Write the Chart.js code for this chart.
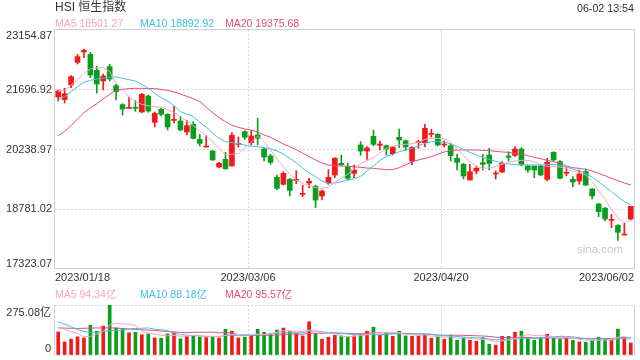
<!DOCTYPE html>
<html><head><meta charset="utf-8">
<script src="https://cdn.jsdelivr.net/npm/chart.js@4.4.0/dist/chart.umd.min.js"></script>
<style>
html,body{margin:0;padding:0;background:#fff;width:640px;height:360px;overflow:hidden}
canvas{position:absolute;left:0}
#c1{top:0}
#c2{top:280px}
</style></head><body>
<canvas id="c1" width="640" height="290"></canvas>
<canvas id="c2" width="640" height="80"></canvas>
<script>
const dates = [
'2023/01/18','2023/01/19','2023/01/20','2023/01/26','2023/01/27','2023/01/30','2023/01/31',
'2023/02/01','2023/02/02','2023/02/03','2023/02/06','2023/02/07','2023/02/08','2023/02/09','2023/02/10',
'2023/02/13','2023/02/14','2023/02/15','2023/02/16','2023/02/17','2023/02/20','2023/02/21','2023/02/22',
'2023/02/23','2023/02/24','2023/02/27','2023/02/28',
'2023/03/01','2023/03/02','2023/03/03','2023/03/06','2023/03/07','2023/03/08','2023/03/09','2023/03/10',
'2023/03/13','2023/03/14','2023/03/15','2023/03/16','2023/03/17','2023/03/20','2023/03/21','2023/03/22',
'2023/03/23','2023/03/24','2023/03/27','2023/03/28','2023/03/29','2023/03/30','2023/03/31',
'2023/04/03','2023/04/04','2023/04/06','2023/04/11','2023/04/12','2023/04/13','2023/04/14','2023/04/17',
'2023/04/18','2023/04/19','2023/04/20','2023/04/21','2023/04/24','2023/04/25','2023/04/26','2023/04/27','2023/04/28',
'2023/05/02','2023/05/03','2023/05/04','2023/05/05','2023/05/08','2023/05/09','2023/05/10','2023/05/11',
'2023/05/12','2023/05/15','2023/05/16','2023/05/17','2023/05/18','2023/05/19','2023/05/22','2023/05/23',
'2023/05/24','2023/05/25','2023/05/29','2023/05/30','2023/05/31',
'2023/06/01','2023/06/02'];

const openP = [21520,21455,21813,22366,22618,22561,22171,21910,22260,21796,
21333,21243,21268,21154,21544,20902,21219,21097,20950,20934,
20666,20853,20487,20300,20202,19812,20000,19836,20365,20674,
20406,20593,20251,20080,19560,19389,19511,19486,19144,19421,
19340,19104,19421,19617,19901,19812,19657,20349,20202,20560,
20340,20332,20137,20536,20454,19958,20406,20406,20609,20609,
20349,20332,20023,19877,19495,19714,19918,20104,19641,19690,
20080,20096,20251,19836,19836,19836,19511,20169,19942,19657,
19511,19470,19698,19275,18909,18803,18510,18388,18152,18543];
const highP = [21690,21731,22040,22561,22691,22610,22268,22081,22317,21829,
21357,21503,21430,21609,21569,21154,21243,21113,21292,21048,
20950,20918,20609,20576,20218,19926,20169,20649,20544,20698,
20698,21000,20267,20121,19617,19698,19535,19722,19364,19535,
19372,19250,19747,20039,20104,19901,19861,20430,20308,20706,
20446,20349,20316,20739,20471,20308,20462,20853,20731,20625,
20454,20373,20129,19901,19877,19836,20121,20267,19714,19942,
20186,20308,20284,19861,19836,19861,20023,20186,19966,19796,
19576,19739,19763,19291,18925,18828,18657,18405,18437,18852];
const lowP = [21422,21373,21748,22325,22480,21992,21617,21690,21910,21447,
21081,21243,21170,21138,21146,20788,21056,20715,20885,20698,
20593,20495,20324,20300,19974,19787,19755,19836,20300,20487,
20349,20349,19958,19877,19259,19372,19104,19405,19088,19307,
18819,19006,19389,19552,19844,19495,19552,20096,19999,20332,
20227,20104,20104,20284,20218,19861,20267,20300,20544,20324,
20300,19958,19739,19519,19495,19641,19739,19739,19519,19673,
19958,20064,19836,19682,19552,19592,19470,19958,19519,19600,
19332,19389,19356,19031,18600,18494,18331,18022,18152,18518];
const closeP = [21666,21601,22016,22504,22659,22057,21837,22032,21959,21650,
21227,21268,21243,21585,21178,21121,21097,20788,20975,20715,
20820,20511,20389,20324,19983,19901,19771,20584,20389,20536,
20568,20511,20056,19926,19291,19657,19242,19511,19169,19462,
19006,19226,19560,20023,19869,19535,19739,20202,20275,20365,
20373,20251,20300,20471,20300,20292,20430,20755,20633,20349,
20373,20088,19926,19592,19698,19779,19877,19901,19665,19901,
20047,20251,19877,19739,19739,19617,19926,19983,19535,19682,
19446,19641,19372,19104,18722,18543,18535,18217,18177,18852];

const ma5 = [21650,21691,21813,21935,22097,22203,22236,22236,22138,21853,
21691,21528,21406,21341,21308,21284,21276,21203,21146,21040,
20934,20820,20690,20576,20430,20267,20105,20121,20137,20267,
20414,20568,20430,20227,20007,19820,19641,19495,19413,19356,
19307,19291,19324,19438,19535,19633,19763,19893,19966,20039,
20153,20267,20316,20349,20365,20381,20414,20487,20511,20511,
20503,20414,20267,20088,19942,19828,19779,19795,19820,19877,
19926,19958,19974,19974,19942,19877,19828,19820,19812,19771,
19706,19682,19617,19454,19230,19020,18780,18570,18460,18501.27];
const ma10 = [21447,21528,21650,21772,21878,21927,21959,21983,21999,22016,
21975,21943,21910,21829,21731,21609,21504,21422,21308,21162,
21105,21040,20902,20788,20641,20511,20430,20406,20381,20349,
20316,20308,20284,20259,20202,20129,20023,19918,19779,19673,
19576,19470,19413,19421,19454,19495,19519,19584,19714,19836,
19974,20072,20121,20186,20227,20267,20332,20389,20430,20430,
20430,20373,20316,20243,20170,20105,20048,19999,19950,19909,
19885,19869,19861,19861,19861,19861,19877,19877,19852,19812,
19763,19714,19657,19568,19454,19332,19210,19088,18966,18892.92];
const ma20 = [20576,20682,20820,20983,21138,21260,21357,21471,21585,21674,
21707,21723,21731,21731,21731,21723,21707,21682,21642,21593,
21536,21479,21406,21276,21138,21016,20918,20829,20780,20739,
20715,20666,20593,20536,20454,20373,20308,20235,20153,20064,
19983,19909,19861,19844,19836,19828,19820,19804,19787,19779,
19763,19747,19747,19795,19861,19942,19983,20023,20064,20121,
20178,20218,20227,20227,20227,20227,20218,20210,20194,20178,
20170,20145,20129,20088,20048,20015,19974,19942,19901,19836,
19795,19779,19755,19714,19657,19600,19535,19478,19421,19375.68];

const volume = [127,72,87,100,94,164,131,159,275.08,149,
142,122,125,111,116,94,92,116,122,89,
103,103,100,100,103,94,142,131,94,98,
105,142,125,118,137,148,131,118,105,183,
118,87,98,109,105,100,105,114,131,153,
109,118,103,131,105,103,105,113,92,98,
87,109,81,96,81,76,96,59,54,103,
103,125,131,96,81,96,114,96,87,94,
81,72,70,81,98,87,81,142,96,66];
const volMa5 = [150,140,128,118,100,103,115,130,165,176,
171,169,163,130,123,114,108,106,108,103,
104,107,103,99,102,100,108,114,113,112,
114,114,113,118,125,134,132,130,128,137,
131,122,118,119,103,100,103,107,111,121,
122,125,123,123,113,112,109,111,104,102,
99,100,93,94,91,89,86,82,73,78,
83,89,103,112,107,106,104,97,95,97,
94,86,81,80,80,82,83,98,101,94.34];
const volMa10 = [183,170,155,140,130,125,124,130,134,136,
137,142,146,147,149,142,138.5,134,119,113,
109,107,105,103.5,102,102,107,109,106,107,
107,111,113,115,119,124,123,122,123,131,
132.5,127,124,123,120,115,113,112,115,112,
111,114,115,117,117,117,117,117,113,108,
105.5,105,102,99,96.5,94,93,87.5,84,84,
86,87,92,92,92,94,96,100,103,102,
100,95,89,87,89,88,85,89,90,88.18];
const volMa20 = [149,148,147,146,147,148,149,149,149,148,
146,143,141,139,137,135,132,129,127,124,
123,125,125,125,126,122,123,121,112,110,
108,109,109,109,110,113,115,115,114,119,
120,119,119,119,119,120,118,117,119,122,
122,121,120,120,119,116,115,115,114,110,
108,109,109,108,107,105.5,105,102,98,96,
96,96,97,96,94,94,95,94,93,93,
93,91,91,90,91,91,90,95,97,95.57];

const yTicks = [17323.07, 18781.02, 20238.97, 21696.92, 23154.87];
const volTicks = [0, 275.08];
const xTickLabels = ['2023/01/18','2023/03/06','2023/04/20','2023/06/02'];
const maNames = ['MA5','MA10','MA20'];
const titleText = 'HSI 恒生指数';
const timeText = '06-02 13:54';
const volUnit = '亿';

const FONT = "'Liberation Sans', Arial, 'Noto Sans CJK SC', sans-serif";
const UP = '#f2191a', DOWN = '#0a9e1c';
const MA_COLORS = ['#f7a5c1', '#3ec2e2', '#e84a7e'];
const GRID = '#d8d8d8', FRAME = '#d0d0d0', TXT = '#333333';

Chart.defaults.font.family = FONT;
const candleColors = closeP.map((c, i) => c >= openP[i] ? UP : DOWN);

function lineDs(data, color) {
  return { type: 'line', data, borderColor: color, borderWidth: 1, pointRadius: 0, fill: false, tension: 0, order: 0 };
}
function vGrid() {
  return { type: 'linear', min: 0, max: 3, position: 'bottom', offset: false, afterFit: s => { s.height = 0; },
    afterBuildTicks: s => { s.ticks = [0,1,2,3].map(v => ({ value: v })); },
    ticks: { display: false }, border: { display: false, dash: [2, 2] },
    grid: { offset: false, drawTicks: false, color: c => (c.index === 1 || c.index === 2) ? GRID : 'rgba(0,0,0,0)' } };
}

const mainPlugin = {
  id: 'mainText',
  afterDraw(chart) {
    const { ctx, chartArea: a, scales } = chart;
    ctx.save();
    ctx.strokeStyle = FRAME; ctx.lineWidth = 1;
    const L = Math.round(a.left) - 0.5, T = Math.round(a.top) - 0.5, R = Math.round(a.right) + 0.5, B = Math.round(a.bottom) - 0.5;
    ctx.strokeRect(L, T, R - L, B - T);
    ctx.fillStyle = TXT; ctx.textBaseline = 'middle';
    ctx.font = '11px ' + FONT; ctx.textAlign = 'right';
    yTicks.forEach((v, k) => {
      let y = scales.y.getPixelForValue(v);
      if (k === yTicks.length - 1) y += 5.5; else if (k === 0) y -= 5.5;
      ctx.fillText(v.toFixed(2), 52, y);
    });
    const aligns = ['left', 'center', 'center', 'right'];
    xTickLabels.forEach((t, k) => {
      ctx.textAlign = aligns[k];
      ctx.fillText(t, scales.xg.getPixelForValue(k), 277.5);
    });
    ctx.font = '12px ' + FONT; ctx.textAlign = 'left';
    ctx.fillText(titleText, 55, 7.5);
    ctx.font = '10.7px ' + FONT; ctx.textAlign = 'right';
    ctx.fillText(timeText, 634, 8.8);
    const vals = [ma5, ma10, ma20];
    const xs = [55, 140, 225];
    ctx.font = '10.5px ' + FONT; ctx.textAlign = 'left';
    vals.forEach((arr, k) => {
      ctx.fillStyle = MA_COLORS[k];
      ctx.fillText(maNames[k] + ' ' + arr[arr.length - 1].toFixed(2), xs[k], 24);
    });
    ctx.fillStyle = '#c8c8c8'; ctx.font = '11.5px ' + FONT; ctx.textAlign = 'right';
    ctx.fillText('sina.com', 623, 249.5);
    ctx.restore();
  }
};

new Chart(document.getElementById('c1'), {
  type: 'bar',
  data: {
    labels: dates,
    datasets: [
      lineDs(ma5, MA_COLORS[0]),
      lineDs(ma10, MA_COLORS[1]),
      lineDs(ma20, MA_COLORS[2]),
      { data: openP.map((o, i) => [o, closeP[i]]), backgroundColor: candleColors, barThickness: 5, minBarLength: 1, grouped: false, borderWidth: 0, order: 2 },
      { data: lowP.map((l, i) => [l, highP[i]]), backgroundColor: candleColors, barThickness: 1, grouped: false, borderWidth: 0, order: 3 }
    ]
  },
  options: {
    responsive: false, animation: false, devicePixelRatio: 1,
    layout: { padding: { left: 0, right: 6, top: 30, bottom: 21 } },
    plugins: { legend: { display: false }, tooltip: { enabled: false } },
    scales: {
      x: { type: 'category', display: false, offset: true },
      xg: vGrid(),
      y: { min: yTicks[0], max: yTicks[yTicks.length - 1], afterFit: s => { s.width = 55; },
        afterBuildTicks: s => { s.ticks = yTicks.map(v => ({ value: v })); },
        ticks: { display: false }, border: { display: false, dash: [2, 2] },
        grid: { drawTicks: false, color: c => (c.index > 0 && c.index < yTicks.length - 1) ? GRID : 'rgba(0,0,0,0)' } }
    }
  },
  plugins: [mainPlugin]
});

const volPlugin = {
  id: 'volText',
  afterDraw(chart) {
    const { ctx, chartArea: a, scales } = chart;
    ctx.save();
    ctx.strokeStyle = FRAME; ctx.lineWidth = 1;
    const L = Math.round(a.left) - 0.5, R = Math.round(a.right) + 0.5;
    ctx.beginPath();
    ctx.moveTo(L, a.top); ctx.lineTo(L, a.bottom);
    ctx.moveTo(R, a.top); ctx.lineTo(R, a.bottom);
    ctx.stroke();
    ctx.fillStyle = TXT; ctx.textBaseline = 'middle'; ctx.textAlign = 'right';
    ctx.font = '11px ' + FONT;
    ctx.fillText(volTicks[1].toFixed(2) + volUnit, 51, 32.5);
    ctx.fillText(String(volTicks[0]), 51, 68.5);
    const vals = [volMa5, volMa10, volMa20];
    const xs = [55, 140, 225];
    ctx.font = '10.5px ' + FONT; ctx.textAlign = 'left';
    vals.forEach((arr, k) => {
      ctx.fillStyle = MA_COLORS[k];
      ctx.fillText(maNames[k] + ' ' + arr[arr.length - 1].toFixed(2) + volUnit, xs[k], 14.7);
    });
    ctx.restore();
  }
};

new Chart(document.getElementById('c2'), {
  type: 'bar',
  data: {
    labels: dates,
    datasets: [
      lineDs(volMa5, MA_COLORS[0]),
      lineDs(volMa10, MA_COLORS[1]),
      lineDs(volMa20, MA_COLORS[2]),
      { data: volume, backgroundColor: candleColors, barThickness: 3, grouped: false, borderWidth: 0, order: 2 }
    ]
  },
  options: {
    responsive: false, animation: false, devicePixelRatio: 1,
    layout: { padding: { left: 0, right: 6, top: 25, bottom: 5 } },
    plugins: { legend: { display: false }, tooltip: { enabled: false } },
    scales: {
      x: { type: 'category', display: false, offset: true },
      xg: vGrid(),
      y: { min: volTicks[0], max: volTicks[1], afterFit: s => { s.width = 55; },
        afterBuildTicks: s => { s.ticks = volTicks.map(v => ({ value: v })); },
        ticks: { display: false }, border: { display: false, dash: [2, 2] },
        grid: { drawTicks: false, color: GRID } }
    }
  },
  plugins: [volPlugin]
});
</script>
</body></html>
